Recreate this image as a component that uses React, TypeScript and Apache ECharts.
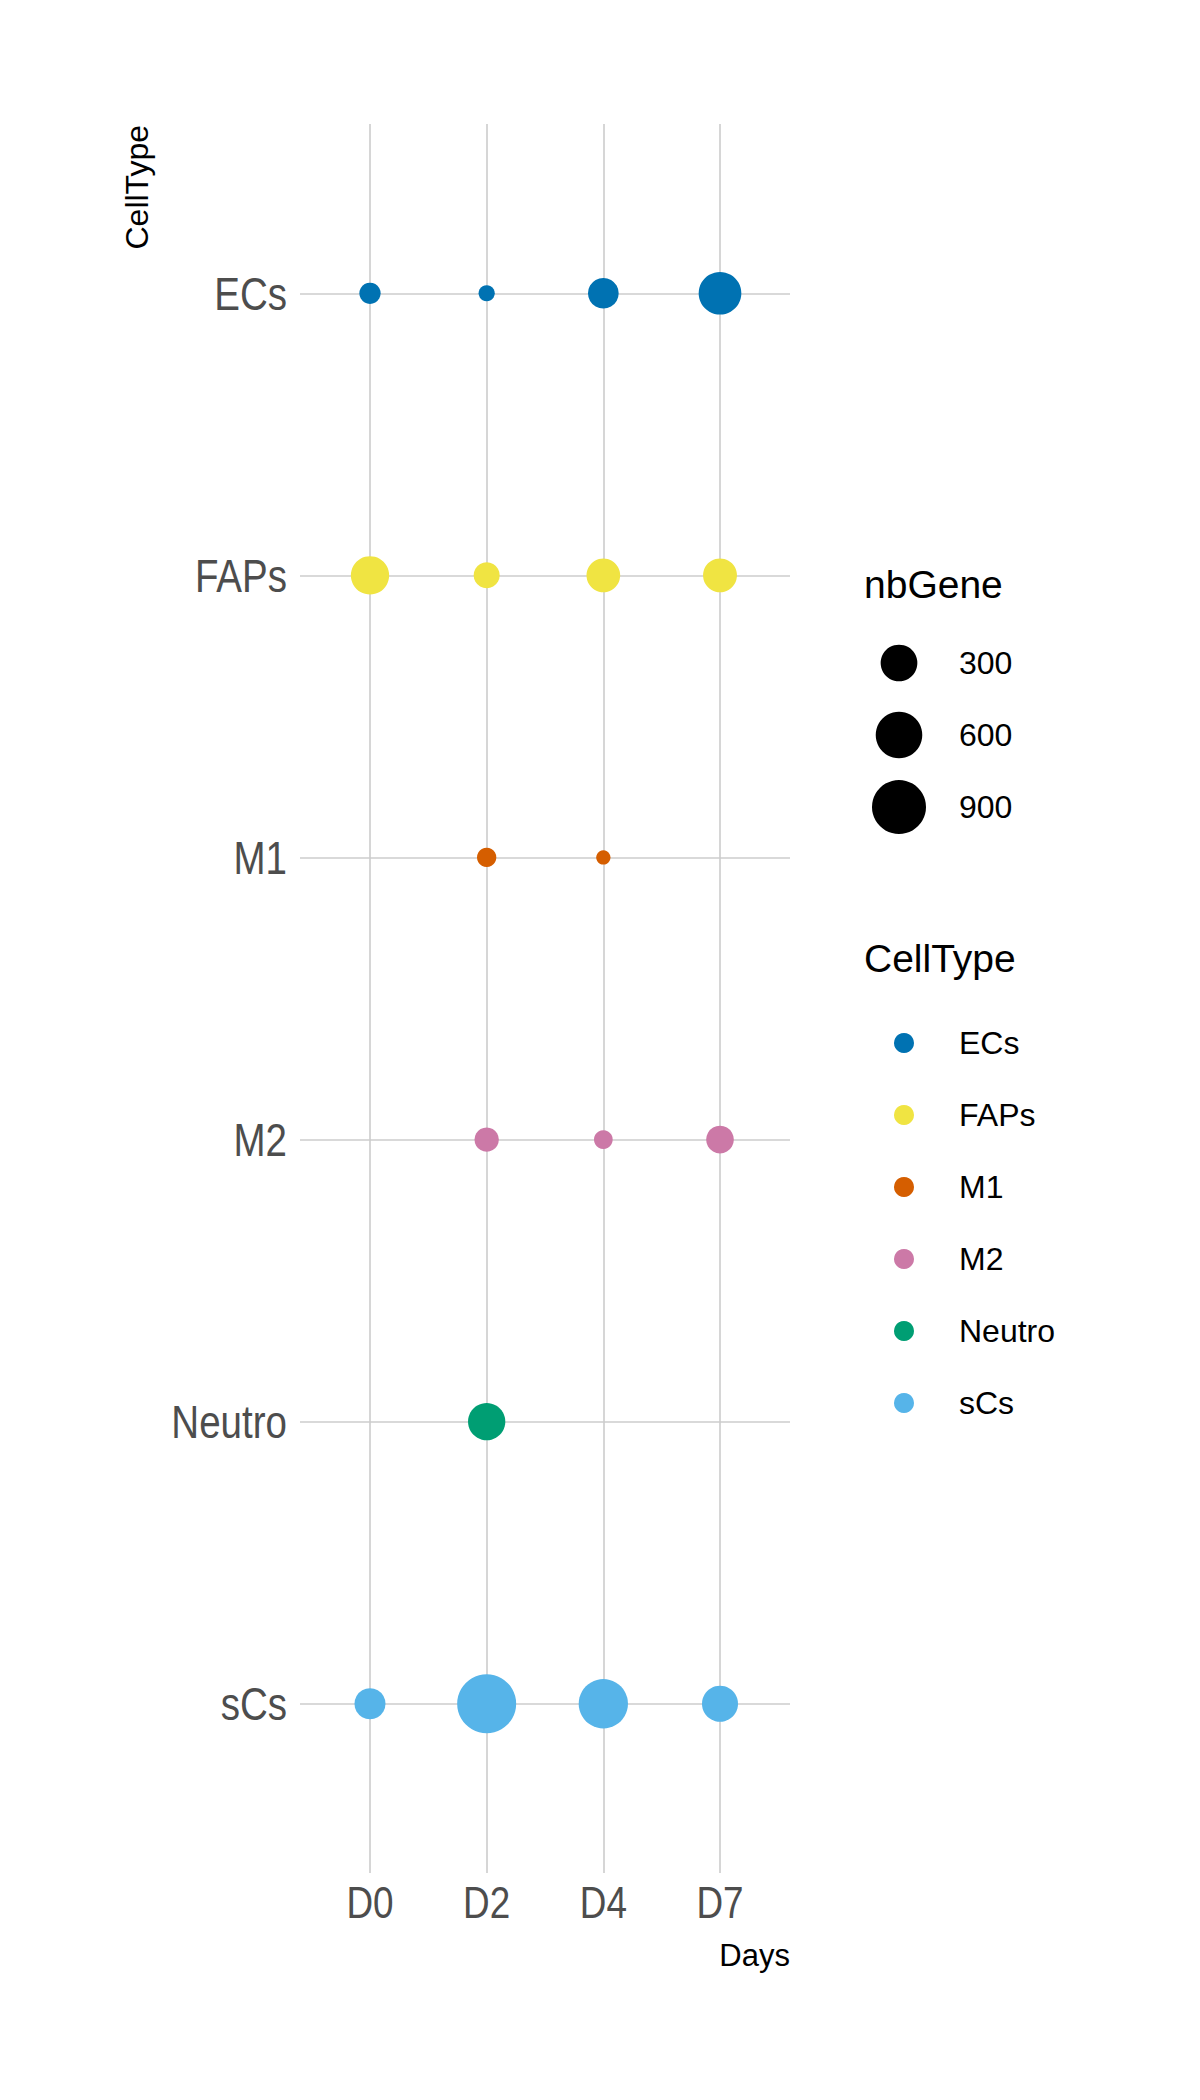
import React, { useEffect, useRef } from "react";
import * as echarts from "echarts";

const days = ["D0", "D2", "D4", "D7"];
const cellTypes = ["ECs", "FAPs", "M1", "M2", "Neutro", "sCs"];
const cellColors = ["#0072B2", "#F0E442", "#D55E00", "#CC79A7", "#009E73", "#56B4E9"];

// nbGene per cell type, one value per day (null = absent)
const nbGeneECs = [47, 22, 170, 470];
const nbGeneFAPs = [341, 96, 230, 235];
const nbGeneM1 = [null, 34, 20, null];
const nbGeneM2 = [null, 76, 31, 120];
const nbGeneNeutro = [null, 315, null, null];
const nbGeneSCs = [176, 1135, 703, 283];

const sizeBreaks = [300, 600, 900];

const allValues = [nbGeneECs, nbGeneFAPs, nbGeneM1, nbGeneM2, nbGeneNeutro, nbGeneSCs];

const REG = "'Liberation Sans', Arial, sans-serif";
const NARROW_SCALE = 0.82;

const D_MIN = 14.3;
const D_MAX = 59;

export default function App() {
  const ref = useRef<HTMLDivElement>(null);

  useEffect(() => {
    if (!ref.current) return;
    const chart = echarts.init(ref.current, undefined, { renderer: "svg" });

    const flat: number[] = [];
    allValues.forEach((a) => a.forEach((v) => { if (v != null) flat.push(v as number); }));
    const vMin = Math.min(...flat);
    const vMax = Math.max(...flat);
    const sizeFn = (v: number) =>
      D_MIN + (D_MAX - D_MIN) * Math.sqrt(Math.max(0, (v - vMin) / (vMax - vMin)));

    const series = cellTypes.map((ct, i) => ({
      type: "scatter",
      name: ct,
      data: allValues[i]
        .map((v, j) => (v == null ? null : [j, i, v]))
        .filter((d) => d !== null),
      symbol: "circle",
      symbolSize: (d: number[]) => sizeFn(d[2]),
      itemStyle: { color: cellColors[i], opacity: 1 },
      z: 3,
    }));

    const xMin = -0.6, xMax = 3.6, yMin = -0.6, yMax = 5.6;

    chart.setOption({
      animation: false,
      backgroundColor: "#fff",
      grid: { left: 300, top: 124, width: 490, height: 1749, containLabel: false },
      xAxis: {
        type: "value",
        min: xMin,
        max: xMax,
        axisLine: { show: false },
        axisTick: { show: false, customValues: [0, 1, 2, 3] },
        axisLabel: { show: false, customValues: [0, 1, 2, 3] },
        splitLine: { show: true, lineStyle: { color: "#CCCCCC", width: 1.6 } },
      },
      yAxis: {
        type: "value",
        inverse: true,
        min: yMin,
        max: yMax,
        axisLine: { show: false },
        axisTick: { show: false, customValues: [0, 1, 2, 3, 4, 5] },
        axisLabel: { show: false, customValues: [0, 1, 2, 3, 4, 5] },
        splitLine: { show: true, lineStyle: { color: "#CCCCCC", width: 1.6 } },
      },
      legend: {
        orient: "vertical",
        left: 889,
        top: 1022,
        itemWidth: 20,
        itemHeight: 20,
        itemGap: 40,
        icon: "circle",
        selectedMode: false,
        data: cellTypes,
        textStyle: {
          fontSize: 32,
          fontFamily: REG,
          color: "#000",
          padding: [0, 0, 0, 40],
          lineHeight: 20,
        },
      },
      series,
    });

    // tick labels placed through the axes' scales (narrow face = Liberation Sans condensed horizontally)
    const plotLeft = chart.convertToPixel({ gridIndex: 0 }, [xMin, 0])[0];
    const plotBottom = chart.convertToPixel({ gridIndex: 0 }, [0, yMax])[1];

    const graphics: any[] = [];
    days.forEach((d, j) => {
      const px = chart.convertToPixel({ gridIndex: 0 }, [j, 0])[0];
      graphics.push({
        type: "text",
        x: px,
        y: plotBottom + 30,
        scaleX: NARROW_SCALE,
        style: {
          text: d,
          font: `45px ${REG}`,
          fill: "#4D4D4D",
          align: "center",
          verticalAlign: "middle",
          textAlign: "center",
          textVerticalAlign: "middle",
        },
      });
    });
    cellTypes.forEach((c, i) => {
      const py = chart.convertToPixel({ gridIndex: 0 }, [0, i])[1];
      graphics.push({
        type: "text",
        x: plotLeft - 13,
        y: py,
        scaleX: NARROW_SCALE,
        style: {
          text: c,
          font: `47px ${REG}`,
          fill: "#4D4D4D",
          align: "right",
          verticalAlign: "middle",
          textAlign: "right",
          textVerticalAlign: "middle",
        },
      });
    });

    graphics.push(
      {
        type: "text",
        x: 137,
        y: 125,
        rotation: Math.PI / 2,
        style: {
          text: "CellType",
          font: `32px ${REG}`,
          fill: "#000",
          align: "right",
          verticalAlign: "middle",
          textAlign: "right",
          textVerticalAlign: "middle",
        },
      },
      {
        type: "text",
        x: 790,
        y: 1955,
        style: {
          text: "Days",
          font: `31px ${REG}`,
          fill: "#000",
          align: "right",
          verticalAlign: "middle",
          textAlign: "right",
          textVerticalAlign: "middle",
        },
      },
      {
        type: "text",
        x: 864,
        y: 584,
        style: {
          text: "nbGene",
          font: `39px ${REG}`,
          fill: "#000",
          align: "left",
          verticalAlign: "middle",
          textAlign: "left",
          textVerticalAlign: "middle",
        },
      },
      {
        type: "text",
        x: 864,
        y: 958,
        style: {
          text: "CellType",
          font: `39px ${REG}`,
          fill: "#000",
          align: "left",
          verticalAlign: "middle",
          textAlign: "left",
          textVerticalAlign: "middle",
        },
      }
    );

    const sizeLegendY = [663, 735, 807];
    sizeBreaks.forEach((b, k) => {
      graphics.push({
        type: "circle",
        shape: { cx: 899, cy: sizeLegendY[k], r: sizeFn(b) / 2 },
        style: { fill: "#000" },
      });
      graphics.push({
        type: "text",
        x: 959,
        y: sizeLegendY[k],
        style: {
          text: String(b),
          font: `32px ${REG}`,
          fill: "#000",
          align: "left",
          verticalAlign: "middle",
          textAlign: "left",
          textVerticalAlign: "middle",
        },
      });
    });

    chart.setOption({ graphic: graphics });

    return () => chart.dispose();
  }, []);

  return (
    <div
      ref={ref}
      style={{ position: "absolute", left: 0, top: 0, width: 1200, height: 2100 }}
    />
  );
}
